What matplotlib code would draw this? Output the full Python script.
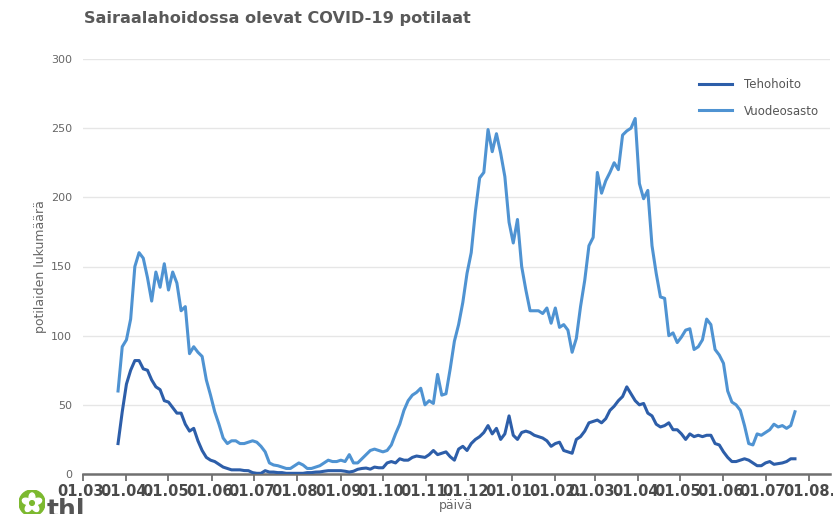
import matplotlib
matplotlib.use("Agg")
import matplotlib.pyplot as plt
from matplotlib.patches import Circle, Ellipse
import pandas as pd
import numpy as np

# Päivittäiset arvot luettu kuvasta (3 päivän välein, alkaen 26.3.2020)
start_date = "2020-03-26"
step = "3D"

tehohoito = [
    22, 45, 65, 75, 82, 82, 76, 75, 68, 63,
    61, 53, 52, 48, 44, 44, 36, 31, 33, 24,
    17, 12, 10, 9, 7, 5, 4, 3, 3, 3,
    2.5, 2.4, 1, 0.5, 0.5, 2.4, 1.4, 1.4, 1, 1,
    0.5, 0.5, 0.5, 0.5, 0.5, 1, 1, 1.4, 1.5, 2,
    2.4, 2.4, 2.4, 2.4, 2, 1.4, 2, 3.4, 4, 4.3,
    3.5, 5, 4.5, 4.5, 8, 9, 8, 11, 10, 10,
    12, 13, 12.5, 12, 14, 17, 14, 15, 16, 12.5,
    10, 18, 20, 17, 22, 25, 27, 30, 35, 29,
    33, 25, 29, 42, 28, 25, 30, 31, 30, 28,
    27, 26, 24, 20, 22, 23, 17, 16, 15, 25,
    27, 31, 37, 38, 39, 37, 40, 46, 49, 53,
    56, 63, 58, 53, 50, 51, 44, 42, 36, 34,
    35, 37, 32, 32, 29, 25, 29, 27, 28, 27,
    28, 28, 22, 21, 16, 12, 9, 9, 10, 11,
    10, 8, 6, 6, 8, 9, 7, 7.5, 8, 9,
    11, 11,
]

vuodeosasto = [
    60, 92, 97, 112, 150, 160, 156, 142, 125, 146,
    135, 152, 133, 146, 138, 118, 121, 87, 92, 88,
    85, 68, 57, 45, 36, 26, 22, 24, 24, 22,
    22, 23, 24, 23, 20, 16, 8, 6.5, 6, 5,
    4, 4, 6, 8, 6.5, 4, 4, 5, 6, 8,
    10, 9, 9, 10, 9, 14, 8, 8, 11, 14,
    17, 18, 17, 16, 17, 21, 29, 36, 46, 53,
    57, 59, 62, 50, 53, 51, 72, 57, 58, 76,
    96, 108, 124, 145, 160, 190, 214, 218, 249, 233,
    246, 232, 215, 182, 167, 184, 150, 133, 118, 118,
    118, 116, 120, 109, 120, 106, 108, 104, 88, 98,
    121, 140, 165, 171, 218, 203, 212, 218, 225, 220,
    245, 248, 250, 257, 210, 199, 205, 165, 145, 128,
    127, 100, 102, 95, 99, 104, 105, 90, 92, 97,
    112, 108, 90, 86, 80, 60, 52, 50, 46, 35,
    22, 21, 29, 28, 30, 32, 36, 34, 35, 33,
    35, 45,
]

series_names = ["Tehohoito", "Vuodeosasto"]
series_colors = ["#2d5ea9", "#4f93d2"]
y_ticks = [0, 50, 100, 150, 200, 250, 300]
month_ticks = pd.date_range("2020-03-01", "2021-08-01", freq="MS")
month_labels = [d.strftime("%d.%m.") for d in month_ticks]

fig = plt.figure(figsize=(8.33, 5.14), dpi=100)
ax = fig.add_axes([83 / 833, 40 / 514, 747 / 833, 415 / 514])

for name, values, color in zip(series_names, [tehohoito, vuodeosasto], series_colors):
    dates = pd.date_range(start_date, periods=len(values), freq=step)
    ax.plot(dates, values, color=color, linewidth=2.2, label=name,
            solid_joinstyle="round", zorder=3)

ax.set_ylim(0, 300)
ax.set_xlim(pd.Timestamp("2020-03-01"), pd.Timestamp("2021-08-16"))
ax.set_yticks(y_ticks)
ax.set_xticks(month_ticks)
ax.set_xticklabels(month_labels, fontsize=10.5, fontweight="bold", color="#4a4a4a")
ax.tick_params(axis="y", length=0, labelsize=8, labelcolor="#666666", pad=8)
ax.tick_params(axis="x", length=5, width=1.3, color="#707070", pad=2)
ax.grid(axis="y", color="#e6e6e6", linewidth=1)
ax.set_axisbelow(True)
for side in ["top", "right", "left"]:
    ax.spines[side].set_visible(False)
ax.spines["bottom"].set_color("#707070")
ax.spines["bottom"].set_linewidth(1.8)

ax.set_ylabel("potilaiden lukumäärä", fontsize=9, color="#666666", labelpad=3)
ax.set_xlabel("päivä", fontsize=9, color="#666666", labelpad=0)

leg = ax.legend(loc="upper right", bbox_to_anchor=(1.0, 0.98), frameon=False,
                fontsize=8.5, handlelength=2.8, labelspacing=1.15,
                handletextpad=1.0)
for t in leg.get_texts():
    t.set_color("#555555")

fig.text(84 / 833, 1 - 18 / 514, "Sairaalahoidossa olevat COVID-19 potilaat",
         fontsize=11.6, fontweight="bold", color="#595959", va="center", ha="left")

# thl-logo vasempaan alakulmaan
logo = fig.add_axes([19 / 833, -2 / 514, 26 / 833, 26 / 514])
logo.set_xlim(-1, 1)
logo.set_ylim(-1, 1)
logo.set_aspect("equal")
logo.axis("off")
logo.add_patch(Circle((0, 0), 1, color="#7cb92f"))
for ang in np.arange(90, 450, 72):
    r = np.deg2rad(ang)
    logo.add_patch(Ellipse((0.42 * np.cos(r), 0.42 * np.sin(r)), 0.7, 0.45,
                           angle=ang, color="white"))
logo.add_patch(Circle((0, 0), 0.18, color="#7cb92f"))
fig.text(47 / 833, -3 / 514, "thl", fontsize=18, fontweight="bold",
         color="#555555", va="baseline", ha="left")

fig.savefig("out.png", dpi=100)
